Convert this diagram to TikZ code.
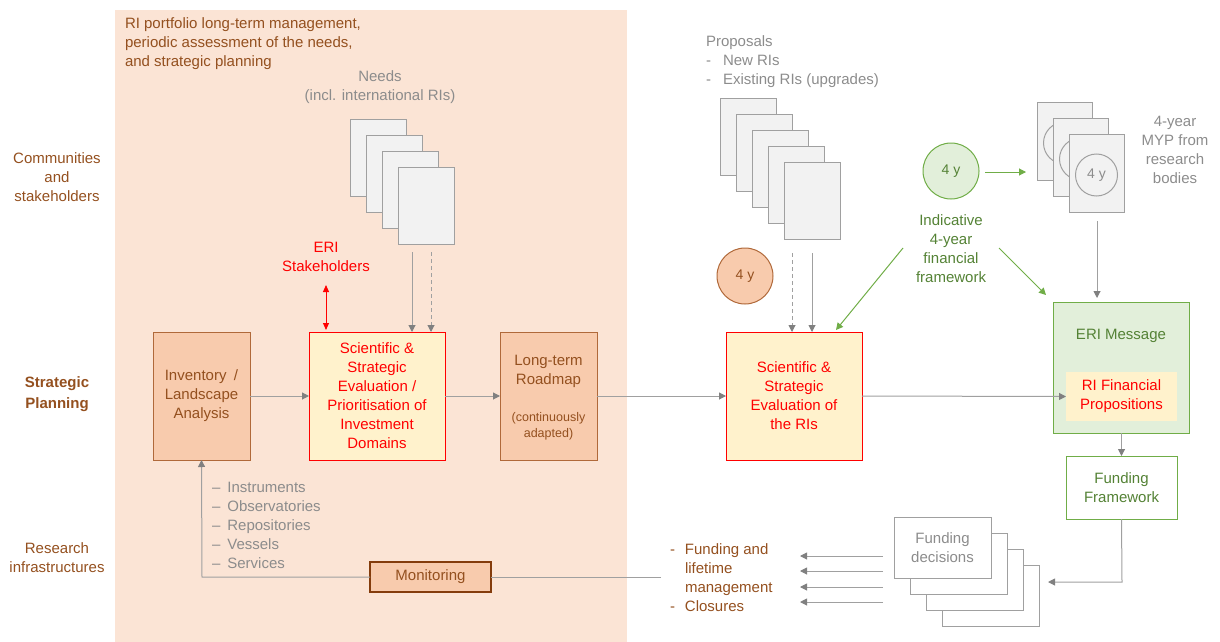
\documentclass[tikz,border=0pt]{standalone}
\usepackage{fontspec}
\setmainfont{Liberation Sans}
\usetikzlibrary{arrows.meta,calc}
\definecolor{bgpink}{HTML}{FBE4D5}
\definecolor{peach}{HTML}{F8CBAD}
\definecolor{brownb}{HTML}{B0693A}
\definecolor{brownt}{HTML}{94501F}
\definecolor{darkbrown}{HTML}{843C0C}
\definecolor{lyellow}{HTML}{FFF2CC}
\definecolor{lgreen}{HTML}{E2EFDA}
\definecolor{mgreen}{HTML}{70AD47}
\definecolor{dgreen}{HTML}{548235}
\definecolor{gtext}{HTML}{8C8C8C}
\definecolor{gline}{HTML}{A0A0A0}
\definecolor{gtip}{HTML}{808080}
\definecolor{sheetfill}{HTML}{F2F2F2}
\begin{document}
\begin{tikzpicture}[x=1pt,y=-1pt,
  font=\fontsize{15}{19}\selectfont,
  every node/.style={inner sep=0pt, outer sep=0pt},
  pbox/.style={draw=brownb, fill=peach, line width=1pt, text=brownt, align=center},
  ybox/.style={draw=red, fill=lyellow, line width=1pt, text=red, align=center},
  sheet/.style={draw=gline, fill=sheetfill, line width=1pt, minimum width=56pt, minimum height=77pt},
  fsheet/.style={draw=gline, fill=white, line width=1pt, minimum width=97pt, minimum height=61pt},
  conn/.style={draw=gline, line width=1pt, -{Triangle[length=7pt,width=7pt,color=gtip]}},
  gconn/.style={draw=mgreen, line width=1pt, -{Triangle[length=7pt,width=7pt]}, color=mgreen},
  brtext/.style={text=brownt, align=center},
  grtext/.style={text=gtext, align=center}
]
\useasboundingbox (0,0) rectangle (1220,642);
\fill[bgpink] (115,10) rectangle (627,642);

% left labels
\node[brtext] (comm) at (57,177) {Communities\\and\\stakeholders};
\node[brtext, font=\fontsize{15}{21}\selectfont\bfseries] (strat) at (57,394) {Strategic\\Planning};
\node[brtext] (resinf) at (57,558) {Research\\infrastructures};

% title
\node[text=brownt, align=left, anchor=west] (title) at (125,44) {RI portfolio long-term management,\\periodic assessment of the needs,\\and strategic planning};

% needs
\node[grtext] (needs) at (380,87) {Needs\\(incl. international RIs)};
\foreach \k in {0,1,2,3} {
  \node[sheet] (need\k) at ({378+16*\k},{157.5+16*\k}) {};
}

% ERI stakeholders
\node[text=red, align=center] (stake) at (326,257) {ERI\\Stakeholders};

% main boxes
\node[pbox, minimum width=97pt, minimum height=128pt] (inv) at (201.5,396) {Inventory\enspace/\\Landscape\\Analysis};
\node[ybox, minimum width=136pt, minimum height=128pt] (sci1) at (377,396) {Scientific \&\\Strategic\\Evaluation /\\Prioritisation of\\Investment\\Domains};
\node[pbox, minimum width=97pt, minimum height=128pt] (road) at (548.5,396) {};
\node[text=brownt, align=center] (roadt) at (548.5,371.5) {Long-term\\Roadmap};
\node[text=brownt, align=center, font=\fontsize{12.5}{16}\selectfont] (roads) at (548.5,426) {(continuously\\adapted)};
\node[ybox, minimum width=136pt, minimum height=128pt] (sci2) at (794,396) {Scientific \&\\Strategic\\Evaluation of\\the RIs};

% ERI message
\node[draw=mgreen, fill=lgreen, line width=1pt, minimum width=136pt, minimum height=131pt] (eri) at (1121,367.5) {};
\node[text=dgreen] (erit) at (1121,336) {ERI Message};
\node[fill=lyellow, text=red, align=center, minimum width=111pt, minimum height=49pt] (rifp) at (1121.5,396.5) {RI Financial\\Propositions};
\node[draw=mgreen, fill=white, line width=1pt, text=dgreen, align=center, minimum width=111pt, minimum height=63pt] (ff) at (1121.5,487.5) {Funding\\Framework};

% monitoring
\node[draw=darkbrown, fill=peach, line width=1.6pt, text=brownt, minimum width=121pt, minimum height=30pt] (mon) at (430.5,577) {Monitoring};

% instruments list
\node[text=gtext, align=left, anchor=west] (instr) at (212,525) {–\hspace{7pt}Instruments\\–\hspace{7pt}Observatories\\–\hspace{7pt}Repositories\\–\hspace{7pt}Vessels\\–\hspace{7pt}Services};

% proposals
\node[text=gtext, align=left, anchor=west] (prop) at (706,61.5) {Proposals\\-\hspace{12pt}New RIs\\-\hspace{12pt}Existing RIs (upgrades)};
\foreach \k in {0,1,2,3,4} {
  \node[sheet] (prop\k) at ({748+16*\k},{136.5+16*\k}) {};
}

% orange circle
\node[circle, draw=brownb, fill=peach, line width=1pt, minimum size=56pt, text=brownt, font=\fontsize{14}{16}\selectfont] (oc) at (745,276) {4 y};

% green circle
\node[circle, draw=mgreen, fill=lgreen, line width=1pt, minimum size=56pt, text=dgreen, font=\fontsize{14}{16}\selectfont] (gc) at (951,171) {4 y};
\node[text=dgreen, align=center] (indic) at (951,248.5) {Indicative\\4-year\\financial\\framework};

% MYP sheets
\node[sheet, minimum width=55pt, minimum height=78pt] (myp0) at (1064.5,141) {};
\node[circle, draw=gline, line width=1pt, minimum size=42pt] (mypc0) at (1064.5,143) {};
\node[sheet, minimum width=55pt, minimum height=78pt] (myp1) at (1080.5,157) {};
\node[circle, draw=gline, line width=1pt, minimum size=42pt] (mypc1) at (1080.5,159) {};
\node[sheet, minimum width=55pt, minimum height=78pt] (myp2) at (1096.5,173) {};
\node[circle, draw=gline, line width=1pt, minimum size=42pt, text=gtext, font=\fontsize{14}{16}\selectfont] (mypc2) at (1096.5,175) {4 y};
\node[grtext] (myptext) at (1175,149.5) {4-year\\MYP from\\research\\bodies};

% funding decisions sheets (top-left in front)
\foreach \k in {3,2,1} {
  \node[fsheet] (fd\k) at ({942.5+16*\k},{547.5+16*\k}) {};
}
\node[fsheet, text=gtext, align=center] (fd0) at (942.5,547.5) {Funding\\decisions};

% funding and lifetime list
\node[text=brownt, align=left, anchor=west] (flm) at (670,578) {-\hspace{10pt}Funding and\\\hspace{15pt}lifetime\\\hspace{15pt}management\\-\hspace{10pt}Closures};

% coordinates for free ends
\coordinate (n1) at (412,252);
\coordinate (n2) at (431,252);
\coordinate (p1) at (792,253);
\coordinate (p2) at (812,253);
\coordinate (s1) at (326,285);
\coordinate (g1) at (903,248);
\coordinate (g1e) at (836,330);
\coordinate (g2) at (999,248);
\coordinate (g2e) at (1046,295);
\coordinate (m1) at (1097,221);
\coordinate (m1e) at (1097,298);
\coordinate (ffc) at (1122,582);
\coordinate (ffe) at (1048,582);
\coordinate (monr) at (661,577);
\coordinate (monl) at (202,577);

% connectors
\draw[conn] (n1) -- (n1 |- sci1.north);
\draw[conn, dashed, dash pattern=on 4pt off 3pt] (n2) -- (n2 |- sci1.north);
\draw[red, line width=1pt, {Triangle[length=7pt,width=6pt]}-{Triangle[length=7pt,width=6pt]}] (s1) -- ($(s1 |- sci1.north)+(0,-2)$);
\draw[conn] (inv.east) -- (sci1.west);
\draw[conn] (sci1.east) -- (road.west);
\draw[conn] (road.east) -- (sci2.west);
\draw[conn] (sci2.east) -- (rifp.west);
\draw[conn, dashed, dash pattern=on 4pt off 3pt] (p1) -- (p1 |- sci2.north);
\draw[conn] (p2) -- (p2 |- sci2.north);
\draw[gconn] ($(gc.east)+(6,1)$) -- ($(myp0.west)+(-11,31)$);
\draw[gconn] (g1) -- (g1e);
\draw[gconn] (g2) -- (g2e);
\draw[conn] (m1) -- (m1e);
\draw[conn] (eri.south -| ff.north) -- (ff.north);
\draw[conn] (ff.south) -- (ffc) -- (ffe);
\foreach \y in {556,571,587,602} {
  \draw[conn] (883,\y) -- (800,\y);
}
\draw[gline, line width=1pt] (monr) -- (mon.east);
\draw[conn] (mon.west) -- (monl) -- (inv.south);
\end{tikzpicture}
\end{document}
